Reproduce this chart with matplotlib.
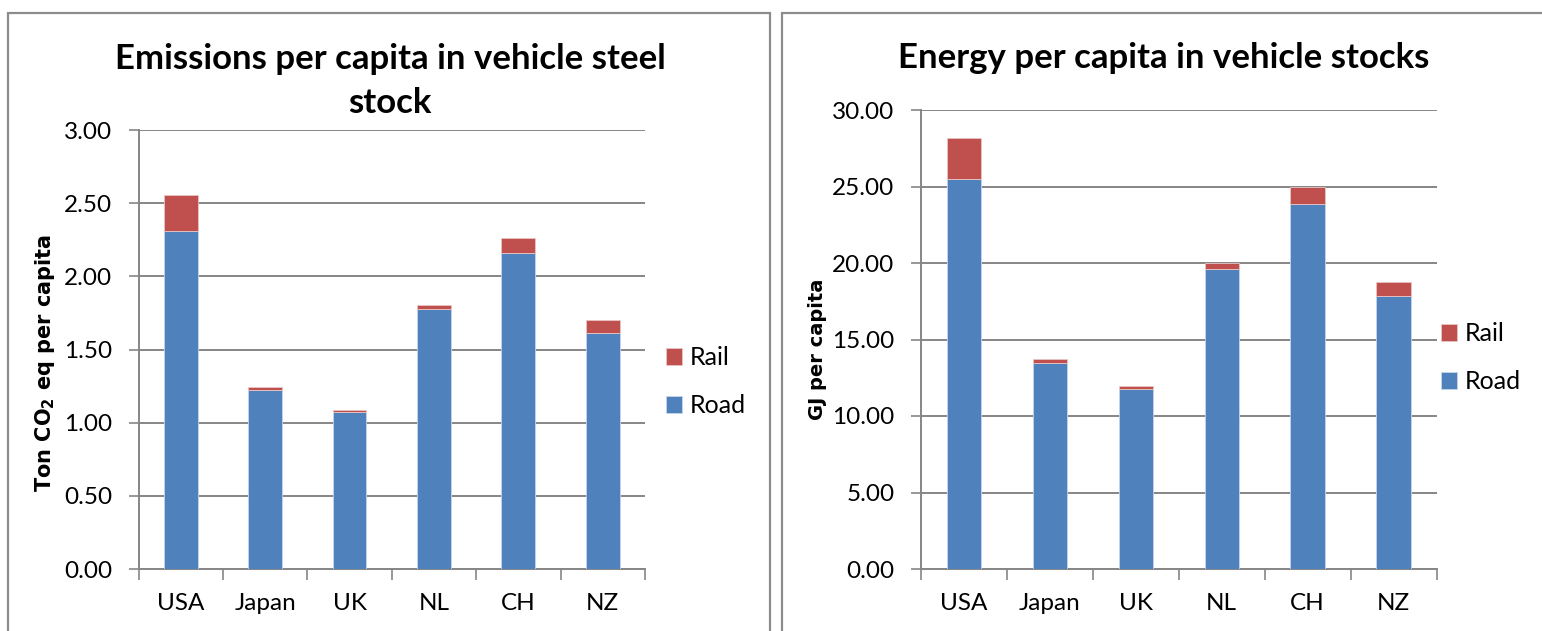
import matplotlib
matplotlib.use("Agg")
import matplotlib.pyplot as plt
from matplotlib.patches import Rectangle
import numpy as np

# Per-capita material stock indicators by country
countries = ["USA", "Japan", "UK", "NL", "CH", "NZ"]

emis_road = [2.31, 1.22, 1.07, 1.78, 2.16, 1.615]
emis_rail = [0.245, 0.025, 0.018, 0.027, 0.10, 0.085]

energy_road = [25.51, 13.47, 11.77, 19.64, 23.83, 17.83]
energy_rail = [2.68, 0.26, 0.17, 0.33, 1.11, 0.91]

emis_ticks = [0.0, 0.5, 1.0, 1.5, 2.0, 2.5, 3.0]
energy_ticks = [0.0, 5.0, 10.0, 15.0, 20.0, 25.0, 30.0]

ROAD = "#4F81BD"
RAIL = "#C0504D"
GRID = "#868686"
FONT = "Lato"

plt.rcParams["font.family"] = [FONT, "DejaVu Sans"]
plt.rcParams["mathtext.default"] = "regular"

fig = plt.figure(figsize=(15.42, 6.31), dpi=100)
W, H = 1542, 631

# chart-area frames
fig.add_artist(Rectangle((7.5 / W, -0.1), (770 - 7.5) / W, 1.1 - 12.5 / H,
                         transform=fig.transFigure, fill=False,
                         edgecolor="#8C8C8C", linewidth=1.6))
fig.add_artist(Rectangle((782 / W, -0.1), (1600 - 782) / W, 1.1 - 12.5 / H,
                         transform=fig.transFigure, fill=False,
                         edgecolor="#8C8C8C", linewidth=1.6))


def draw_panel(rect, road, rail, ticks, ylabel, ylabel_size, ylabel_xy,
               legend_anchor):
    ax = fig.add_axes(rect)
    x = np.arange(len(countries))
    ax.bar(x, road, width=0.40, color=ROAD, edgecolor="#C6D4E8",
           linewidth=0.6, label="Road", zorder=3)
    ax.bar(x, rail, bottom=road, width=0.40, color=RAIL, edgecolor="#E8C6C5",
           linewidth=0.6, label="Rail", zorder=3)
    ax.set_xlim(-0.5, len(countries) - 0.5)
    ax.set_ylim(ticks[0], ticks[-1])
    ax.set_yticks(ticks)
    ax.set_yticklabels([f"{t:.2f}" for t in ticks], fontsize=17.5, family=FONT)
    ax.yaxis.grid(True, color=GRID, linewidth=1.4, zorder=0)
    ax.set_axisbelow(True)
    ax.tick_params(axis="y", length=7, width=1.2, color=GRID, pad=12,
                   direction="out")
    # category separators on the x axis
    ax.set_xticks(np.arange(-0.5, len(countries) + 0.5, 1.0))
    ax.set_xticklabels([])
    ax.set_xticks(x, minor=True)
    ax.set_xticklabels(countries, minor=True, fontsize=17.5, family=FONT)
    ax.tick_params(axis="x", which="major", length=8, width=1.2, color=GRID,
                   direction="out")
    ax.tick_params(axis="x", which="minor", length=0, pad=17)
    for side in ("top", "right"):
        ax.spines[side].set_visible(False)
    for side in ("left", "bottom"):
        ax.spines[side].set_color(GRID)
        ax.spines[side].set_linewidth(1.4)
    ax.set_ylabel(ylabel, fontsize=ylabel_size, fontweight="bold",
                  family=["DejaVu Sans"], va="center", ha="center")
    ax.yaxis.set_label_coords(*ylabel_xy)
    h, l = ax.get_legend_handles_labels()
    ax.legend(h[::-1], l[::-1], loc="center left", bbox_to_anchor=legend_anchor,
              frameon=False, fontsize=18, handlelength=0.64, handleheight=0.64,
              handletextpad=0.3, labelspacing=1.0, borderaxespad=0,
              borderpad=0)
    return ax


ax1 = draw_panel([138.5 / W, 1 - 569 / H, (645 - 138.5) / W, (569 - 130) / H],
                 emis_road, emis_rail, emis_ticks,
                 r"Ton CO$_2$ eq per capita", 15, (-0.1846, 0.469),
                 (1.0415, 0.427))
ax2 = draw_panel([921 / W, 1 - 569 / H, (1436.5 - 921) / W, (569 - 110) / H],
                 energy_road, energy_rail, energy_ticks,
                 "GJ per capita", 14, (-0.2017, 0.479),
                 (1.0087, 0.4597))

fig.text(390 / W, 1 - 81 / H, "Emissions per capita in vehicle steel\nstock",
         ha="center", va="center", fontsize=25, fontweight="bold",
         linespacing=1.45)
fig.text(1164 / W, 1 - 58 / H, "Energy per capita in vehicle stocks",
         ha="center", va="center", fontsize=25, fontweight="bold")

fig.savefig("out.png", dpi=100, facecolor="white")
